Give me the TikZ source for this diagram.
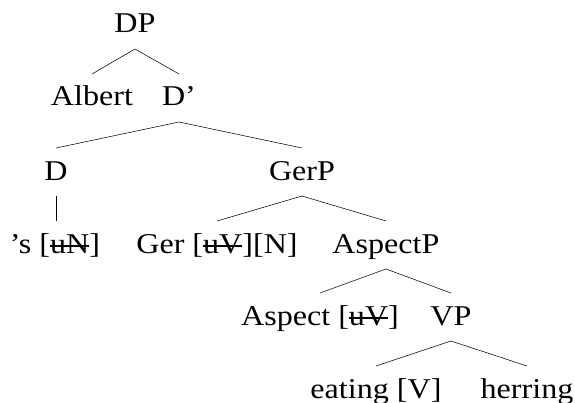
\documentclass[tikz,border=0pt]{standalone}
\usepackage{fontspec}
\setmainfont{Liberation Serif}[FakeStretch=1.12]
\newcommand\strk[1]{\setbox0\hbox{#1}\rlap{\rule[0.48ex]{\wd0}{0.9pt}}\box0}
\tikzset{
  cat/.style={anchor=base, inner sep=0pt, outer sep=0pt, text height=24pt, text depth=12pt,
    font=\fontsize{21.5}{26}\selectfont}
}
\begin{document}
\begin{tikzpicture}[x=0.75pt, y=-0.75pt]
            \useasboundingbox (0,0) rectangle (575,403);
            \node[cat] (dp) at (135, 33) {DP};
            \node[cat] (albert) at (92, 106) {Albert};
            \node[cat] (dbar) at (179, 106) {D’};
            \node[cat] (d) at (56, 180) {D};
            \node[cat] (gerp) at (302, 180) {GerP};
            \node[cat] (s) at (55, 253) {’s [\strk{uN}]};
            \node[cat] (ger) at (217, 253) {Ger [\strk{uV}][N]};
            \node[cat] (aspectp) at (386, 253) {AspectP};
            \node[cat] (aspect) at (320, 325) {Aspect [\strk{uV}]};
            \node[cat] (vp) at (451, 325) {VP};
            \node[cat] (eating) at (376, 398) {eating [V]};
            \node[cat] (herring) at (527, 398) {herring};
            \draw (dp.south) -- (albert.north);
            \draw (dp.south) -- (dbar.north);
            \draw (dbar.south) -- (d.north);
            \draw (dbar.south) -- (gerp.north);
            \draw (d.south) -- (d.south |- s.north);
            \draw (gerp.south) -- (ger.north);
            \draw (gerp.south) -- (aspectp.north);
            \draw (aspectp.south) -- (aspect.north);
            \draw (aspectp.south) -- (vp.north);
            \draw (vp.south) -- (eating.north);
            \draw (vp.south) -- (herring.north);
\end{tikzpicture}
\end{document}
